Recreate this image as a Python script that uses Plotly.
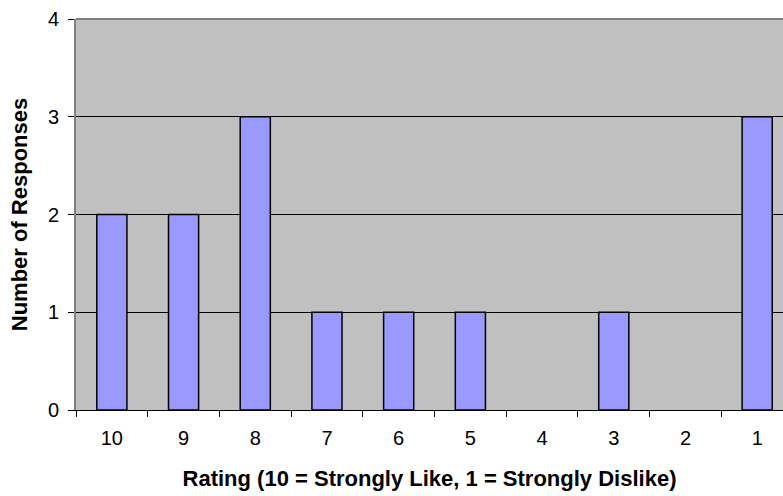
import plotly.graph_objects as go

ratings = ["10", "9", "8", "7", "6", "5", "4", "3", "2", "1"]
responses = [2, 2, 3, 1, 1, 1, 0, 1, 0, 3]
y_ticks = [0, 1, 2, 3, 4]

line_widths = [1.5 if v > 0 else 0 for v in responses]

fig = go.Figure()
fig.add_trace(go.Bar(
    x=ratings, y=responses,
    marker=dict(color="#9999FF", line=dict(color="black", width=line_widths)),
    hoverinfo="x+y",
))

font_family = "Liberation Sans"
fig.update_layout(
    width=783, height=496,
    margin=dict(l=76, r=0, t=19, b=86, autoexpand=False),
    paper_bgcolor="white",
    plot_bgcolor="#C0C0C0",
    bargap=0.58,
    showlegend=False,
    font=dict(family=font_family, size=20, color="black"),
    xaxis=dict(
        type="category",
        range=[-0.5, 9.36],
        tickson="boundaries",
        ticks="outside", ticklen=6, tickcolor="black", tickwidth=1,
        ticklabelstandoff=10,
        showgrid=False,
        showline=True, linecolor="black", linewidth=1,
        tickfont=dict(size=20),
        automargin=False,
        title=dict(text="<b>Rating (10 = Strongly Like, 1 = Strongly Dislike)</b>",
                   font=dict(size=22), standoff=22),
    ),
    yaxis=dict(
        range=[0, 4],
        tickvals=y_ticks,
        ticks="outside", ticklen=6, tickcolor="black", tickwidth=1,
        ticklabelstandoff=5,
        showgrid=True, gridcolor="black", gridwidth=1,
        zeroline=False,
        showline=True, linecolor="#808080", linewidth=2,
        tickfont=dict(size=20),
        automargin=False,
        title=dict(text="<b>Number of Responses</b>", font=dict(size=22), standoff=14),
    ),
    shapes=[dict(type="line", xref="paper", yref="paper", x0=0, x1=1, y0=1, y1=1,
                 line=dict(color="#808080", width=2))],
)

fig.write_html("out.html", config={"displayModeBar": False},
               post_script="document.body.style.margin='0';document.body.style.overflow='hidden';")
